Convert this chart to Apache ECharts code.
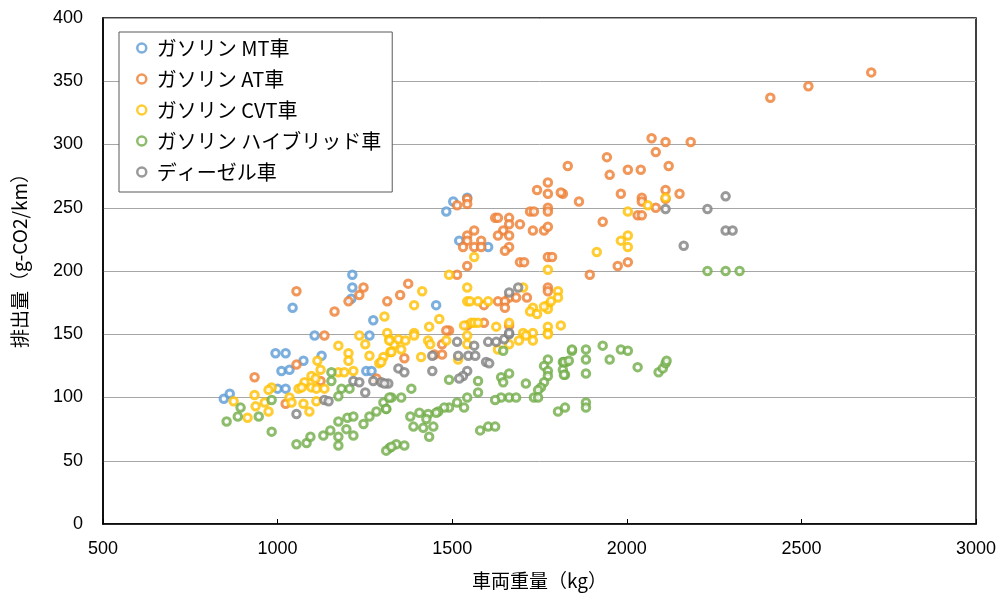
<!DOCTYPE html>
<html><head><meta charset="utf-8">
<script src="https://cdn.jsdelivr.net/npm/echarts@6/dist/echarts.min.js"></script>
<style>html,body{margin:0;padding:0;background:#fff}#c{width:1003px;height:597px}</style>
</head><body><div id="c"></div>
<script>
const seriesNames = ['ガソリン MT車','ガソリン AT車','ガソリン CVT車','ガソリン ハイブリッド車','ディーゼル車'];
const colors = ['#5B9BD5','#ED7D31','#FFC000','#70AD47','#7F7F7F'];
const xTicks = [500,1000,1500,2000,2500,3000];
const yTicks = [0,50,100,150,200,250,300,350,400];

const mtData = [
 [846,99],[863,103],[994,135],[1023,135],[1043,171],[1214,197],[1214,187],[1211,178],
 [1274,161],[1106,149],[1263,149],[1074,129],[1126,133],[1011,121],[1034,122],
 [1000,107],[1023,107],[1254,121],[1269,121],
 [1483,247],[1503,255],[1543,258],[1520,224],[1603,219],[1454,173]
];
const atData = [
 [2411,337],[2520,346],[2700,357],[2183,302],[2071,305],[2111,302],[2083,294],[1943,290],
 [1831,283],[1951,276],[2003,280],[2040,280],[2120,283],[1817,261],[1863,255],[1983,261],
 [2043,258],[2043,255],[2111,264],[2111,257],[2151,261],[2083,250],[2031,244],[2043,244],
 [1931,239],[1974,204],[2003,207],[1894,197],
 [1774,270],[1743,264],[1774,261],[1811,262],[1543,257],[1543,253],[1514,252],[1774,250],
 [1774,247],[1723,247],[1734,247],[1623,242],[1631,242],[1663,242],[1663,237],[1694,237],
 [1731,232],[1763,232],[1774,235],[1646,232],[1663,228],[1631,228],[1563,232],[1543,228],
 [1583,224],[1543,224],[1531,219],[1563,219],[1583,219],[1663,219],[1651,216],[1694,207],
 [1706,207],[1774,211],[1786,211],[1543,204],[1514,197],[1374,190],[1351,181],[1314,176],
 [1774,187],[1774,184],[1663,179],[1683,179],[1714,179],[1631,176],[1651,176],[1651,171],
 [1591,173],[1591,159],[1663,157],[1491,153],[1483,153],[1543,157],
 [1054,184],[1246,187],[1234,181],[1203,176],[1163,168],[1134,149],
 [1054,126],[934,116],[1123,113],[1023,95],[1283,115],
 [1471,142],[1363,131],[1449,134],[1471,134]
];
const cvtData = [
 [1234,149],[1314,151],[1320,146],[1334,142],[1251,142],[1174,141],[1203,135],[1323,136],
 [1263,133],[1203,129],[1114,129],[1123,122],[1303,132],[1291,127],[1174,120],[1191,120],
 [1217,121],[1097,117],[1109,115],[1077,112],[1060,107],[1069,108],[1097,108],[1111,107],
 [1134,107],[983,108],[974,106],[934,102],[874,97],[937,93],[963,96],[974,89],[914,84],
 [1034,100],[1040,96],[1074,95],[1091,89],[1111,97],
 [1563,211],[1491,197],[1774,201],[1543,187],[1703,187],[1414,184],[1391,173],[1543,176],
 [1551,176],[1574,176],[1603,176],[1803,184],[1803,179],[1774,173],[1774,170],[1763,172],
 [1731,171],[1723,168],[1743,166],[1783,176],[1463,162],[1306,164],[1434,156],[1554,159],
 [1563,159],[1574,159],[1534,157],[1626,156],[1663,159],[1703,151],[1731,151],[1774,156],
 [1811,157],[1774,151],[1391,151],[1543,149],
 [1320,145],[1346,146],[1366,145],[1391,149],[1431,145],[1437,142],[1483,145],[1543,142],
 [1631,138],[1663,142],[1691,145],[1711,149],[1731,145],[1774,150],[1517,130],[1411,132],
 [1326,136],[1297,128],[1354,138],
 [2111,258],[2060,252],[2003,247],[2003,228],[1983,224],[2003,219],[1914,215]
];
const hvData = [
 [1154,120],[1154,113],[1183,107],[1206,107],[1174,101],[983,98],[894,92],[886,85],[946,85],
 [854,81],[983,73],[1054,63],[1083,64],[1094,69],[1131,70],[1151,74],[1174,81],[1200,84],
 [1217,85],[1197,75],[1217,70],[1174,69],[1174,62],[1246,79],[1263,85],[1283,89],[1303,96],
 [1326,100],[1311,91],[1340,63],[1320,60],[1311,58],
 [1491,114],[1574,113],[1574,104],[1640,116],[1663,119],[1646,112],[1711,111],[1774,130],
 [1763,125],[1774,121],[1774,117],[1763,112],[1754,108],[1746,106],[1817,128],[1826,128],
 [1817,122],[1823,118],[1843,137],[1734,100],[1746,100],[1663,100],[1683,100],[1640,100],
 [1623,98],[1543,100],[1514,96],[1491,92],[1477,92],[1460,89],[1454,88],[1431,87],[1406,88],
 [1380,85],[1426,83],[1446,77],[1417,76],[1389,77],[1434,69],[1534,92],[1354,100],[1320,100],
 [1311,91],[1383,107],[1326,61],[1363,62],[1580,74],[1603,77],[1623,77],[1803,89],[1823,92],
 [1646,137],
 [1843,138],[1883,138],[1931,141],[1983,138],[2003,137],[1820,128],[1834,129],[1883,130],
 [1951,130],[1820,118],[1883,119],[2031,124],[2091,120],[2103,123],[2111,127],[2114,129],
 [1883,96],[1883,92],[2231,200],[2283,200],[2323,200]
];
const dieselData = [
 [2231,249],[2283,259],[2283,232],[2303,232],[2111,249],[2163,220],
 [1346,123],[1217,113],[1234,112],[1274,113],[1297,112],[1317,111],[1134,98],[1146,97],
 [1251,104],[1054,87],
 [1514,144],[1443,133],[1517,133],[1546,133],[1566,133],[1563,141],[1603,144],[1626,144],
 [1649,146],[1663,150],[1597,128],[1606,127],[1363,120],[1443,121],[1543,121],[1531,117],
 [1520,115],[1306,111],[1663,183],[1689,187],[1663,151]
];
const allData = [mtData, atData, cvtData, hvData, dieselData];

const chart = echarts.init(document.getElementById('c'));
const numFont = '"Liberation Sans", Arial, sans-serif';
const jpFont = '"Noto Sans CJK JP", sans-serif';
chart.setOption({
  animation:false,
  grid:{left:103, top:18, right:27, bottom:73, show:true, borderColor:'#000', borderWidth:1.5},
  legend:{
    orient:'vertical', left:119, top:32,
    backgroundColor:'#fff', borderColor:'#595959', borderWidth:1,
    padding:[5,11,9,17], itemGap:9, itemWidth:20, itemHeight:9,
    itemStyle:{borderWidth:2.5},
    textStyle:{fontSize:20, fontFamily:jpFont, color:'#000', lineHeight:22},
    data:seriesNames
  },
  xAxis:{
    type:'value', min:xTicks[0], max:xTicks[xTicks.length-1], interval:500,
    name:'車両重量（kg）', nameLocation:'middle', nameGap:47,
    nameTextStyle:{fontSize:19, fontFamily:jpFont, color:'#000'},
    axisLine:{show:true, lineStyle:{color:'#000', width:1.5}},
    axisTick:{show:true, inside:true, length:5, lineStyle:{color:'#000'}},
    axisLabel:{fontSize:18, margin:16, fontFamily:numFont, color:'#000', formatter:v=>String(v)},
    splitLine:{show:false}
  },
  yAxis:{
    type:'value', min:yTicks[0], max:yTicks[yTicks.length-1], interval:50,
    name:'排出量（g-CO2/km）', nameLocation:'middle', nameGap:74, nameRotate:90,
    nameTextStyle:{fontSize:19, fontFamily:jpFont, color:'#000', padding:[0,0,0,30]},
    axisLine:{show:true, lineStyle:{color:'#000', width:1.5}},
    axisTick:{show:false},
    axisLabel:{fontSize:18, margin:20, fontFamily:numFont, color:'#000', formatter:v=>String(v)},
    splitLine:{show:true, lineStyle:{color:'#A6A6A6', width:1}}
  },
  series: seriesNames.map((n,i)=>({
    name:n, type:'scatter', data:allData[i],
    symbol:'circle', symbolSize:7.5,
    itemStyle:{color:'#fff', borderColor:colors[i], borderWidth:3}
  }))
});
</script></body></html>
